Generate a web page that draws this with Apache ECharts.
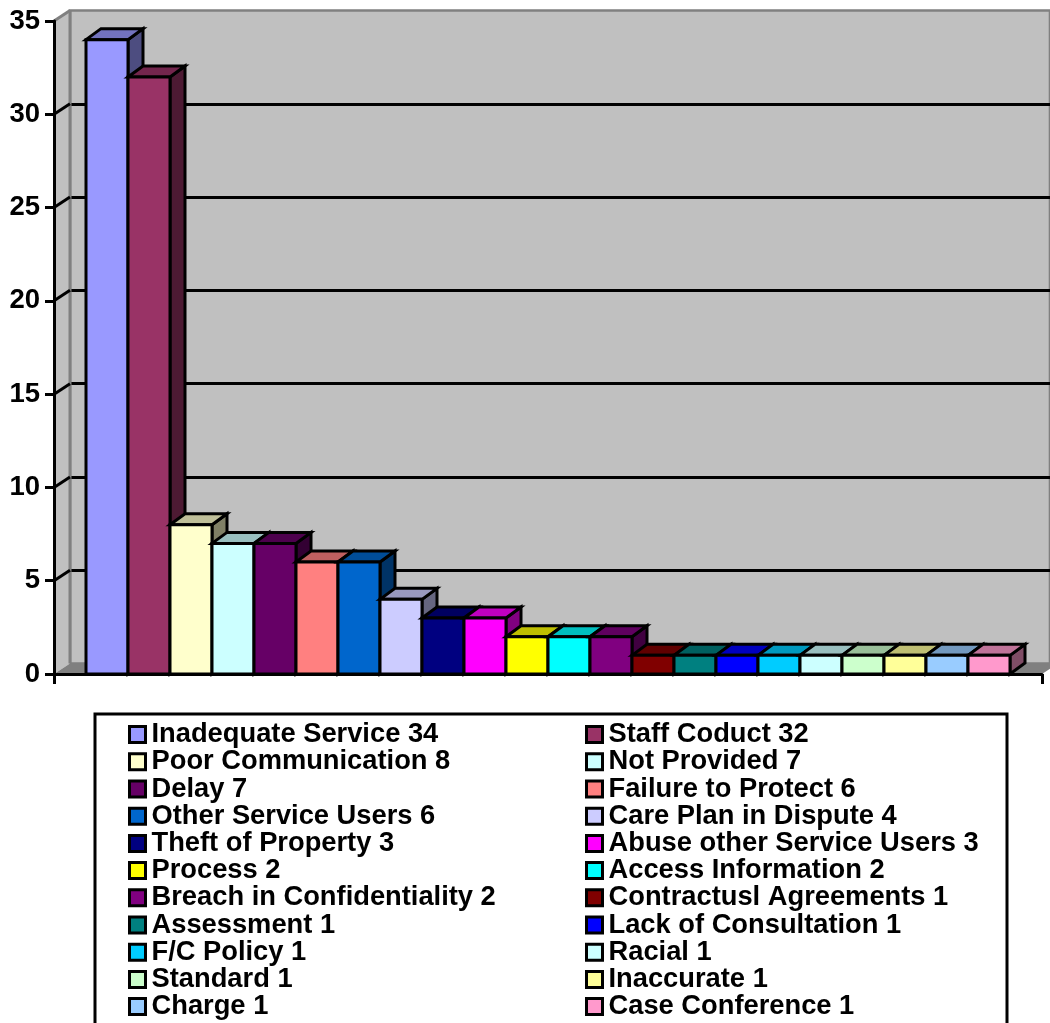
<!DOCTYPE html>
<html>
<head>
<meta charset="utf-8">
<style>html,body{margin:0;padding:0;background:#fff}#chart{width:1050px;height:1023px}</style>
<script src="https://cdn.jsdelivr.net/npm/echarts@6/dist/echarts.min.js"></script>
</head>
<body>
<div id="chart"></div>
<script>
// Complaint categories and their counts
const categories = [
  'Inadequate Service', 'Staff Coduct', 'Poor Communication', 'Not Provided',
  'Delay', 'Failure to Protect', 'Other Service Users', 'Care Plan in Dispute',
  'Theft of Property', 'Abuse other Service Users', 'Process', 'Access Information',
  'Breach in Confidentiality', 'Contractusl Agreements', 'Assessment', 'Lack of Consultation',
  'F/C Policy', 'Racial', 'Standard', 'Inaccurate', 'Charge', 'Case Conference'
];
const counts = [34, 32, 8, 7, 7, 6, 6, 4, 3, 3, 2, 2, 2, 1, 1, 1, 1, 1, 1, 1, 1, 1];
const palette = [
  '#9999FF', '#993366', '#FFFFCC', '#CCFFFF', '#660066', '#FF8080', '#0066CC', '#CCCCFF',
  '#000080', '#FF00FF', '#FFFF00', '#00FFFF', '#800080', '#800000', '#008080', '#0000FF',
  '#00CCFF', '#CCFFFF', '#CCFFCC', '#FFFF99', '#99CCFF', '#FF99CC'
];
const yTicks = [0, 5, 10, 15, 20, 25, 30, 35];

const FONT = '"Liberation Sans", Arial, sans-serif';
const WALL_DX = 16, WALL_DY = -10.5;   // perspective offset of the back wall
const BAR_DX = 15, BAR_DY = -11;       // depth of each column
const CLUSTER = 924 / 988;             // share of the axis taken by the columns
const INK = '#000', EDGE = 3, WALL = '#C0C0C0', WALL_EDGE = '#808080';

function shade(hex, k) {
  const n = parseInt(hex.slice(1), 16);
  const c = [n >> 16, (n >> 8) & 255, n & 255].map(v => Math.round(v * k));
  return `rgb(${c[0]},${c[1]},${c[2]})`;
}
const labelled = categories.map((c, i) => `${c} ${counts[i]}`);

// One prism per complaint type, placed side by side inside the single axis band
const barSeries = labelled.map((name, i) => ({
  type: 'custom',
  name,
  xAxisIndex: 0,
  yAxisIndex: 0,
  coordinateSystem: 'cartesian2d',
  z: 5,
  clip: false,
  itemStyle: { color: palette[i] },
  encode: { x: 0, y: 1 },
  data: [[0, counts[i]]],
  renderItem(params, api) {
    const top = api.coord([0, api.value(1)]);
    const base = api.coord([0, 0]);
    const w = api.size([1, 0])[0] * CLUSTER / categories.length;
    const x0 = top[0] + (i - categories.length / 2) * w;
    const x1 = x0 + w, y0 = top[1], y1 = base[1];
    const style = c => ({ fill: c, stroke: INK, lineWidth: EDGE, lineJoin: 'miter' });
    return {
      type: 'group',
      children: [
        { type: 'polygon', shape: { points: [[x1, y0], [x1 + BAR_DX, y0 + BAR_DY], [x1 + BAR_DX, y1 + BAR_DY], [x1, y1]] }, style: style(shade(palette[i], 0.5)) },
        { type: 'polygon', shape: { points: [[x0, y0], [x0 + BAR_DX, y0 + BAR_DY], [x1 + BAR_DX, y0 + BAR_DY], [x1, y0]] }, style: style(shade(palette[i], 0.75)) },
        { type: 'rect', shape: { x: x0, y: y0, width: w, height: y1 - y0 }, style: style(palette[i]) }
      ]
    };
  }
}));

// Side wall, floor and the diagonal links from the front axis to the back wall
const wallSeries = {
  type: 'custom',
  name: 'walls',
  xAxisIndex: 0,
  yAxisIndex: 0,
  coordinateSystem: 'cartesian2d',
  z: 2,
  clip: false,
  silent: true,
  encode: { x: 0, y: 1 },
  data: yTicks.map(v => [0, v]),
  renderItem(params, api) {
    const v = api.value(1);
    const half = api.size([1, 0])[0] / 2;
    const p = api.coord([0, v]);
    const xL = p[0] - half, xR = p[0] + half, y = p[1];
    const children = [];
    if (v === 0) {
      const topY = api.coord([0, yTicks[yTicks.length - 1]])[1];
      children.push({ type: 'polygon', shape: { points: [[xL, y], [xL + WALL_DX, y + WALL_DY], [xL + WALL_DX, topY + WALL_DY], [xL, topY]] }, style: { fill: WALL } });
      children.push({ type: 'line', shape: { x1: xL + WALL_DX, y1: topY + WALL_DY, x2: xL + WALL_DX, y2: y + WALL_DY }, style: { stroke: WALL_EDGE, lineWidth: 3 } });
      children.push({ type: 'polygon', shape: { points: [[xL, y], [xL + WALL_DX, y + WALL_DY], [xR + WALL_DX, y + WALL_DY], [xR, y]] }, style: { fill: WALL_EDGE } });
    } else {
      const top = v === yTicks[yTicks.length - 1];
      children.push({ type: 'line', shape: { x1: xL, y1: y, x2: xL + WALL_DX, y2: y + WALL_DY }, style: { stroke: top ? WALL_EDGE : INK, lineWidth: EDGE } });
    }
    return { type: 'group', children };
  }
};

const legendBase = {
  orient: 'vertical',
  height: 400,
  itemWidth: 16,
  itemHeight: 16,
  itemGap: 0,
  padding: 0,
  icon: 'rect',
  selectedMode: false,
  itemStyle: { borderColor: INK, borderWidth: EDGE },
  textStyle: { fontFamily: FONT, fontWeight: 'bold', fontSize: 27.3, lineHeight: 27.2, color: INK, padding: [0, 0, 0, 1] }
};

const chart = echarts.init(document.getElementById('chart'), null, { renderer: 'canvas' });
chart.setOption({
  animation: false,
  backgroundColor: '#fff',
  grid: [
    { left: 54, top: 21, width: 988, height: 653 },
    { left: 54 + WALL_DX, top: 21 + WALL_DY, width: 988, height: 653, show: true, backgroundColor: WALL, borderColor: WALL_EDGE, borderWidth: 2.6 }
  ],
  xAxis: [
    {
      type: 'category', gridIndex: 0, data: [''], z: 8,
      axisLine: { lineStyle: { color: INK, width: EDGE } },
      axisTick: { show: true, alignWithLabel: false, length: 10, lineStyle: { color: INK, width: EDGE } },
      axisLabel: { show: false }
    },
    {
      type: 'category', gridIndex: 1, data: [''],
      axisLine: { show: false }, axisTick: { show: false }, axisLabel: { show: false }
    }
  ],
  yAxis: [
    {
      type: 'value', gridIndex: 0, min: 0, max: 35, interval: 5, z: 8,
      axisLine: { show: true, lineStyle: { color: INK, width: EDGE } },
      axisTick: { show: true, length: 9, lineStyle: { color: INK, width: EDGE } },
      axisLabel: { fontFamily: FONT, fontWeight: 'bold', fontSize: 27.5, color: INK, margin: 14, padding: [5, 0, 0, 0] },
      splitLine: { show: false }
    },
    {
      type: 'value', gridIndex: 1, min: 0, max: 35, interval: 5,
      axisLine: { show: false }, axisTick: { show: false }, axisLabel: { show: false },
      splitLine: { show: true, showMinLine: false, showMaxLine: false, lineStyle: { color: INK, width: EDGE } }
    }
  ],
  legend: [
    Object.assign({}, legendBase, { left: 128, top: 721, data: labelled.filter((_, i) => i % 2 === 0) }),
    Object.assign({}, legendBase, { left: 585, top: 721, data: labelled.filter((_, i) => i % 2 === 1) })
  ],
  graphic: [{
    type: 'rect', z: -1, silent: true,
    shape: { x: 95, y: 714, width: 912, height: 340 },
    style: { fill: '#fff', stroke: INK, lineWidth: EDGE }
  }],
  series: [wallSeries].concat(barSeries)
});
</script>
</body>
</html>
